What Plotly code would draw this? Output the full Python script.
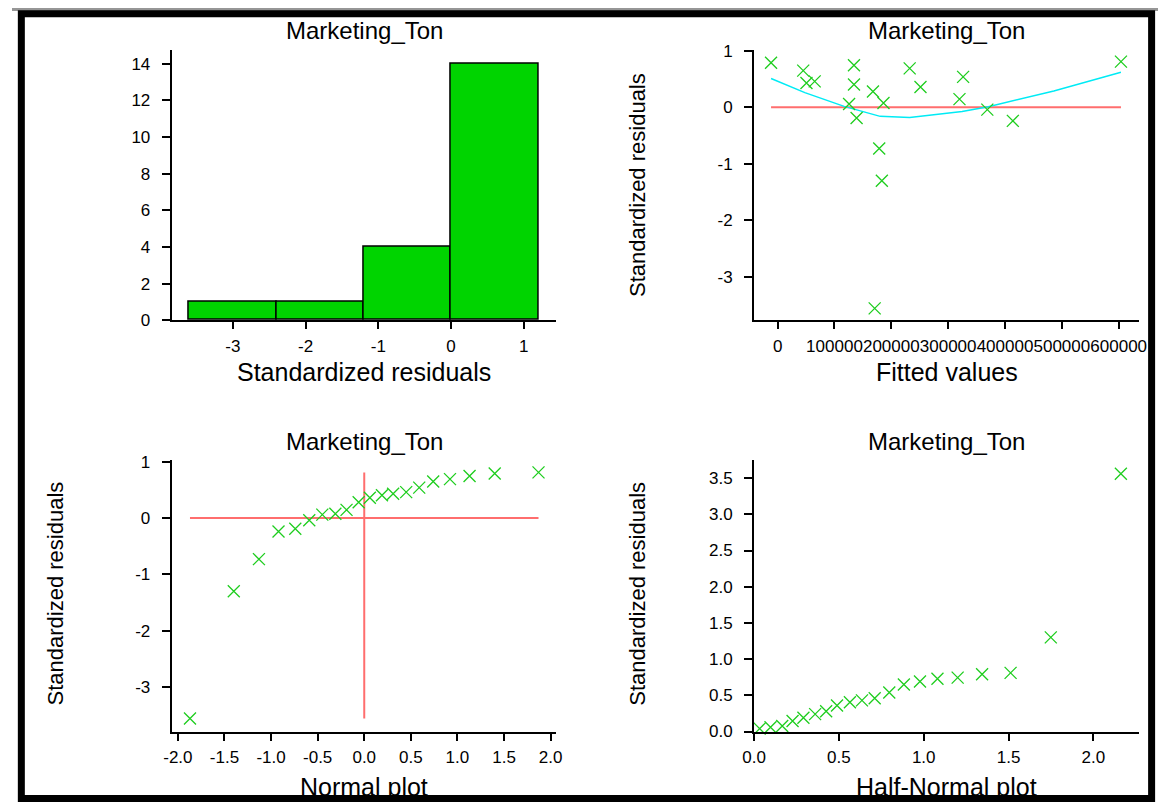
import plotly.graph_objects as go

W, H = 1166, 809

# ---------------- data ----------------
panel_title = "Marketing_Ton"

hist_edges = [-3.6, -2.4, -1.2, 0.0, 1.2]
hist_counts = [1, 1, 4, 14]

fitted_values = [-11600, 45000, 50700, 65200, 134300, 134300, 125700, 138900, 167700, 186200,
                 178700, 183300, 232300, 251300, 326300, 319900, 368900, 413800, 604000, 170700]
std_residuals = [0.79, 0.65, 0.43, 0.46, 0.745, 0.405, 0.06, -0.19, 0.28, 0.076,
                 -0.73, -1.30, 0.69, 0.36, 0.54, 0.145, -0.04, -0.24, 0.81, -3.56]
smooth_x = [-11600, 47900, 117000, 180400, 232300, 324600, 370600, 485900, 604000]
smooth_y = [0.51, 0.26, 0.017, -0.16, -0.18, -0.075, 0.012, 0.29, 0.62]
ref_line_x = [-11600, 604000]
ref_line_y = [0, 0]

normal_scores = [-1.87, -1.40, -1.13, -0.92, -0.74, -0.59, -0.45, -0.31, -0.19, -0.06,
                 0.06, 0.19, 0.31, 0.45, 0.59, 0.74, 0.92, 1.13, 1.40, 1.87]
sorted_residuals = [-3.56, -1.30, -0.73, -0.24, -0.19, -0.04, 0.06, 0.076, 0.145, 0.28,
                    0.36, 0.405, 0.43, 0.46, 0.54, 0.65, 0.69, 0.745, 0.79, 0.81]
normal_hline_x = [-1.87, 1.87]
normal_vline_y = [-3.56, 0.81]

halfnormal_scores = [0.033, 0.097, 0.166, 0.227, 0.291, 0.360, 0.425, 0.489, 0.565, 0.636,
                     0.711, 0.797, 0.883, 0.978, 1.081, 1.200, 1.344, 1.512, 1.749, 2.162]
abs_residuals = [0.04, 0.06, 0.076, 0.145, 0.19, 0.24, 0.28, 0.36, 0.405, 0.43,
                 0.46, 0.54, 0.65, 0.69, 0.73, 0.745, 0.79, 0.81, 1.30, 3.56]

hist_ticks = [-3, -2, -1, 0, 1]
hist_yticks = [0, 2, 4, 6, 8, 10, 12, 14]
fitted_ticks = [0, 100000, 200000, 300000, 400000, 500000, 600000]
resid_ticks = [-3, -2, -1, 0, 1]
normal_ticks = [-2.0, -1.5, -1.0, -0.5, 0.0, 0.5, 1.0, 1.5, 2.0]
half_xticks = [0.0, 0.5, 1.0, 1.5, 2.0]
half_yticks = [0.0, 0.5, 1.0, 1.5, 2.0, 2.5, 3.0, 3.5]

# ---------------- styles ----------------
FONT = "Liberation Sans, Arial, sans-serif"
GREEN_BAR = "rgb(0,212,0)"
GREEN_PT = "rgb(30,205,30)"
RED = "rgb(255,110,110)"
CYAN = "rgb(0,235,245)"


def px_x(p):
    return p / W


def px_y(p):
    return 1 - p / H


marker_x = dict(symbol="x-thin", size=12, color=GREEN_PT,
                line=dict(color=GREEN_PT, width=1.3))

fig = go.Figure()

centers = [(hist_edges[i] + hist_edges[i + 1]) / 2 for i in range(len(hist_counts))]
widths = [hist_edges[i + 1] - hist_edges[i] for i in range(len(hist_counts))]
fig.add_trace(go.Bar(x=centers, y=hist_counts, width=widths,
                     marker=dict(color=GREEN_BAR, line=dict(color="black", width=1.5)),
                     xaxis="x", yaxis="y", showlegend=False))

fig.add_trace(go.Scatter(x=ref_line_x, y=ref_line_y, mode="lines",
                         line=dict(color=RED, width=2), xaxis="x2", yaxis="y2", showlegend=False))
fig.add_trace(go.Scatter(x=smooth_x, y=smooth_y, mode="lines",
                         line=dict(color=CYAN, width=1.5), xaxis="x2", yaxis="y2", showlegend=False))
fig.add_trace(go.Scatter(x=fitted_values, y=std_residuals, mode="markers", marker=marker_x,
                         cliponaxis=False, xaxis="x2", yaxis="y2", showlegend=False))

fig.add_trace(go.Scatter(x=normal_hline_x, y=[0, 0], mode="lines",
                         line=dict(color=RED, width=2), xaxis="x3", yaxis="y3", showlegend=False))
fig.add_trace(go.Scatter(x=[0, 0], y=normal_vline_y, mode="lines",
                         line=dict(color=RED, width=2), xaxis="x3", yaxis="y3", showlegend=False))
fig.add_trace(go.Scatter(x=normal_scores, y=sorted_residuals, mode="markers", marker=marker_x,
                         cliponaxis=False, xaxis="x3", yaxis="y3", showlegend=False))

fig.add_trace(go.Scatter(x=halfnormal_scores, y=abs_residuals, mode="markers", marker=marker_x,
                         cliponaxis=False, xaxis="x4", yaxis="y4", showlegend=False))

TICKFONT = dict(family=FONT, size=17, color="black")


def ax(domain, rng, tickvals, anchor, fmt="{:g}", ticklen=7, standoff=0):
    return dict(domain=domain, range=rng, tickmode="array", tickvals=tickvals,
                ticktext=[fmt.format(v) for v in tickvals],
                anchor=anchor, showline=True, linecolor="black", linewidth=2,
                ticks="outside", ticklen=ticklen, tickwidth=2, tickcolor="black",
                showgrid=False, zeroline=False, tickfont=TICKFONT, tickangle=0,
                ticklabelstandoff=standoff, fixedrange=True)


L1, R1 = px_x(162.5), px_x(554)
L2, R2 = px_x(755), px_x(1146.7)
TOPY = [px_y(319.3), px_y(42.7)]
BOTY = [px_y(740), px_y(462.3)]

fig.update_layout(
    width=W, height=H, autosize=False,
    margin=dict(l=0, r=0, t=0, b=0, pad=0),
    paper_bgcolor="white", plot_bgcolor="white",
    font=dict(family=FONT, color="black"),
    bargap=0,
    xaxis=ax([L1, R1], [-3.84, 1.45], hist_ticks, "y", standoff=2),
    yaxis=ax(TOPY, [0, 14.76], hist_yticks, "x", ticklen=8, standoff=8),
    xaxis2=ax([L2, R2], [-41500, 635800], fitted_ticks, "y2", fmt="{:d}", standoff=2),
    yaxis2=ax(TOPY, [-3.77, 1.02], resid_ticks, "x2", ticklen=8, standoff=8),
    xaxis3=ax([L1, R1], [-2.066, 2.063], normal_ticks, "y3", fmt="{:.1f}", standoff=2),
    yaxis3=ax(BOTY, [-3.79, 1.03], resid_ticks, "x3", ticklen=8, standoff=8),
    xaxis4=ax([L2, R2], [0, 2.269], half_xticks, "y4", fmt="{:.1f}", standoff=2),
    yaxis4=ax(BOTY, [0, 3.75], half_yticks, "x4", fmt="{:.1f}", ticklen=8, standoff=8),
)

TFONT = dict(family=FONT, size=24, color="black")
annots = []
for cx, cy in [(358.4, 23), (951, 23), (358.4, 443), (951, 443)]:
    annots.append(dict(text=panel_title, x=px_x(cx), y=px_y(cy), xref="paper", yref="paper",
                       xanchor="center", yanchor="middle", showarrow=False, font=TFONT))
for txt, cx, cy in [("Standardized residuals", 358.4, 372), ("Fitted values", 951, 372),
                    ("Normal plot", 358.4, 797), ("Half-Normal plot", 951, 797)]:
    annots.append(dict(text=txt, x=px_x(cx), y=px_y(cy), xref="paper", yref="paper",
                       xanchor="center", yanchor="middle", showarrow=False,
                       font=dict(family=FONT, size=25, color="black")))
for cx, cy in [(637, 181), (44.6, 599), (637, 599)]:
    annots.append(dict(text="Standardized residuals", x=px_x(cx), y=px_y(cy), xref="paper", yref="paper",
                       xanchor="center", yanchor="middle", showarrow=False, textangle=-90,
                       font=dict(family=FONT, size=22, color="black")))
fig.update_layout(annotations=annots)

# outer frame
fig.add_shape(type="line", xref="paper", yref="paper", x0=0, x1=1, y0=px_y(1.5), y1=px_y(1.5),
              line=dict(color="rgb(150,150,150)", width=3))
fig.add_shape(type="rect", xref="paper", yref="paper",
              x0=px_x(9.5), x1=px_x(1159.5), y0=px_y(808.5), y1=px_y(6),
              line=dict(color="black", width=7))

# pin the figure to the top-left corner of the page (no default body margin)
js = """
var st=document.createElement('style');
st.innerHTML='html,body{margin:0 !important;padding:0 !important;overflow:hidden;}';
document.head.appendChild(st);
var gd=document.getElementById('{plot_id}');
gd.style.position='fixed';gd.style.left='0px';gd.style.top='0px';
"""
fig.write_html("out.html", config={"displayModeBar": False, "responsive": False}, post_script=js)
